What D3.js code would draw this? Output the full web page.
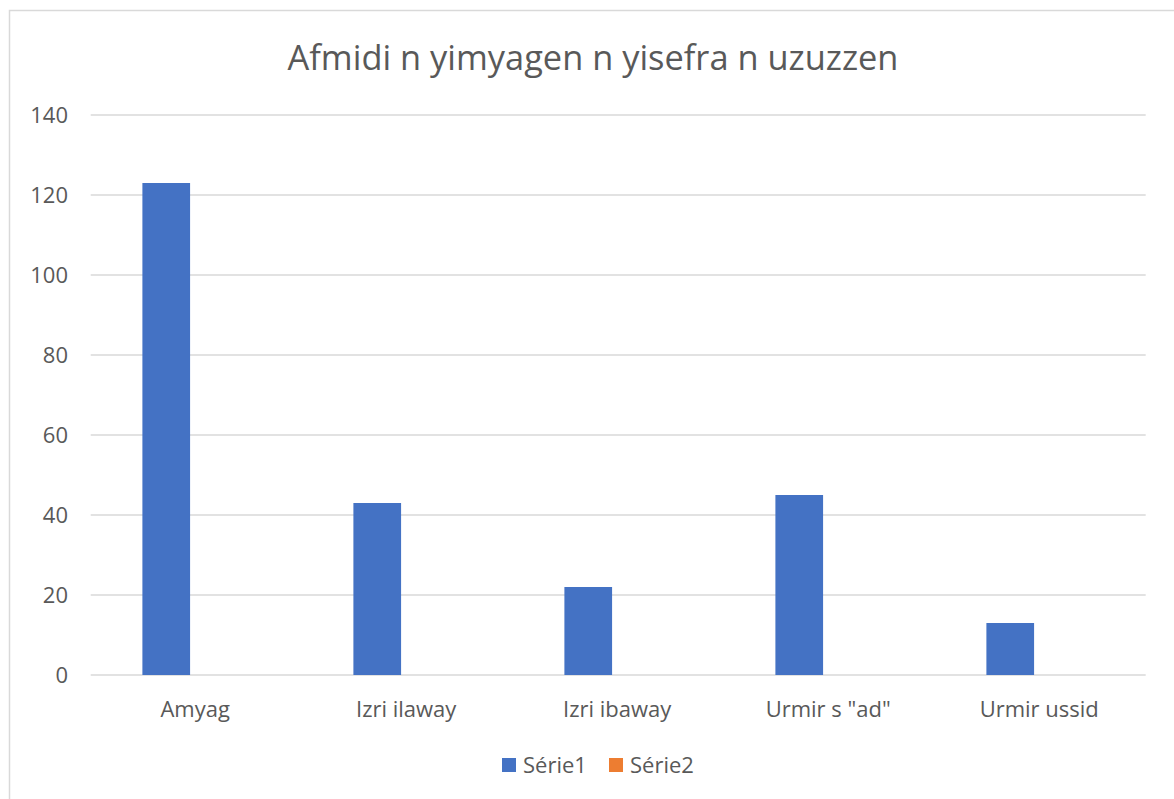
<!DOCTYPE html>
<html>
<head>
<meta charset="utf-8">
<script src="https://cdn.jsdelivr.net/npm/d3@7/dist/d3.min.js"></script>
<style>
  html, body { margin: 0; padding: 0; background: #fff; }
  svg { display: block; }
  text { font-family: "Open Sans", sans-serif; fill: #595959; }
</style>
</head>
<body>
<svg id="chart" width="1174" height="799"></svg>
<script>
const title = 'Afmidi n yimyagen n yisefra n uzuzzen';
const categories = ['Amyag', 'Izri ilaway', 'Izri ibaway', 'Urmir s "ad"', 'Urmir ussid'];
const seriesNames = ['Série1', 'Série2'];
const serie1 = [123, 43, 22, 45, 13];
const serie2 = [0, 0, 0, 0, 0];
const yTicks = [0, 20, 40, 60, 80, 100, 120, 140];
const colors = ['#4472C4', '#ED7D31'];

const svg = d3.select('#chart');

// outer border (chart area frame)
svg.append('path')
  .attr('d', 'M9.5,799 L9.5,10.5 L1174,10.5')
  .attr('fill', 'none').attr('stroke', '#d9d9d9').attr('stroke-width', 1.5);

const plotLeft = 90.7, plotRight = 1145.7, plotTop = 115, plotBottom = 675;

const x0 = d3.scaleBand().domain(categories).range([plotLeft, plotRight]).padding(0);
const bw = x0.bandwidth();
const x1 = d3.scaleBand().domain(seriesNames).range([bw * 0.245, bw * 0.245 + bw * 0.452]).padding(0);
const y = d3.scaleLinear().domain([0, 140]).range([plotBottom, plotTop]);

// gridlines
svg.append('g').selectAll('line').data(yTicks).join('line')
  .attr('x1', plotLeft).attr('x2', plotRight)
  .attr('y1', d => y(d)).attr('y2', d => y(d))
  .attr('stroke', '#d9d9d9').attr('stroke-width', 1.4);

// y tick labels
svg.append('g').selectAll('text').data(yTicks).join('text')
  .attr('x', 68).attr('y', d => y(d) + 8)
  .attr('text-anchor', 'end')
  .attr('font-size', 22)
  .text(d => d);

// bars
const data = categories.map((c, i) => ({ cat: c, vals: [serie1[i], serie2[i]] }));
const groups = svg.append('g').selectAll('g').data(data).join('g')
  .attr('transform', d => `translate(${x0(d.cat)},0)`);
groups.selectAll('rect').data(d => d.vals.map((v, j) => ({ s: seriesNames[j], v, j })))
  .join('rect')
  .attr('x', d => x1(d.s))
  .attr('width', x1.bandwidth())
  .attr('y', d => y(d.v))
  .attr('height', d => y(0) - y(d.v))
  .attr('fill', d => colors[d.j]);

// category labels
svg.append('g').selectAll('text').data(categories).join('text')
  .attr('x', d => x0(d) + bw / 2 - 1)
  .attr('y', 717)
  .attr('text-anchor', 'middle')
  .attr('font-size', 22)
  .text(d => d);

// title
svg.append('text')
  .attr('x', 593).attr('y', 70)
  .attr('text-anchor', 'middle')
  .attr('font-size', 34.4)
  .text(title);

// legend
const legendX = [502, 609];
const leg = svg.append('g').selectAll('g').data(seriesNames).join('g')
  .attr('transform', (d, i) => `translate(${legendX[i]},758)`);
leg.append('rect').attr('width', 14).attr('height', 14).attr('fill', (d, i) => colors[i]);
leg.append('text').attr('x', 21).attr('y', 15).attr('font-size', 22).text(d => d);
</script>
</body>
</html>
